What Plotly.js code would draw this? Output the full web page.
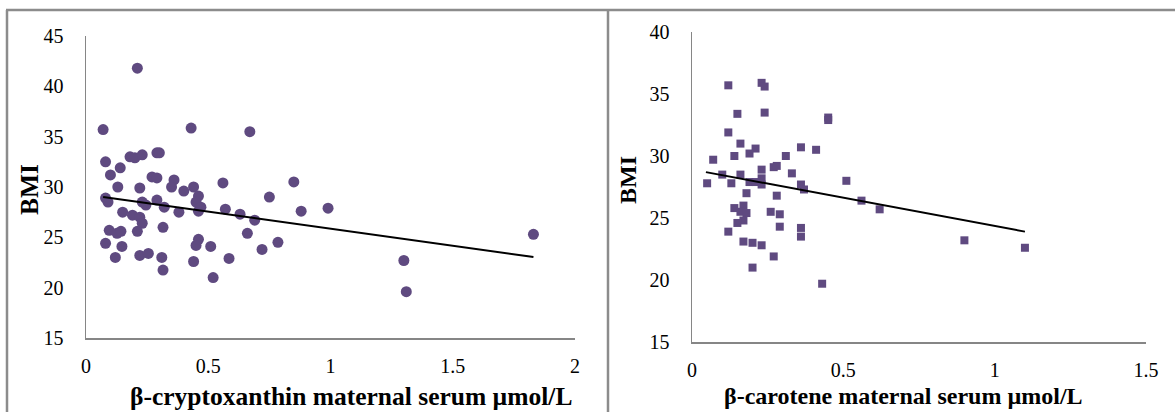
<!DOCTYPE html>
<html>
<head>
<meta charset="utf-8">
<script src="https://cdn.plot.ly/plotly-3.0.1.min.js"></script>
<style>html,body{margin:0;padding:0;background:#fff;}#chart{width:1175px;height:412px;}</style>
</head>
<body>
<div id="chart"></div>
<script>
// Left panel: beta-cryptoxanthin vs BMI
const cryptoX = [0.07,0.21,0.43,0.67,0.08,0.10,0.14,0.13,0.18,0.20,0.23,0.29,0.30,0.27,0.29,0.22,0.36,0.35,0.40,0.44,0.46,0.45,0.08,0.09,0.23,0.245,0.29,0.15,0.32,0.19,0.22,0.23,0.21,0.315,0.095,0.127,0.143,0.08,0.147,0.12,0.22,0.255,0.31,0.315,0.38,0.47,0.46,0.45,0.46,0.51,0.44,0.52,0.56,0.57,0.63,0.69,0.66,0.72,0.785,0.585,0.75,0.85,0.88,0.99,1.83,1.30,1.31];
const cryptoBMI = [35.7,41.8,35.85,35.5,32.5,31.2,31.9,30.0,33.0,32.9,33.2,33.4,33.4,31.0,30.9,29.9,30.7,30.0,29.6,30.0,29.1,28.5,28.9,28.5,28.5,28.2,28.7,27.5,28.0,27.2,27.0,26.4,25.6,26.0,25.7,25.4,25.6,24.4,24.1,23.0,23.2,23.4,23.0,21.75,27.5,28.0,27.6,24.2,24.8,24.1,22.6,21.0,30.4,27.8,27.3,26.7,25.4,23.8,24.5,22.9,29.0,30.5,27.6,27.9,25.3,22.7,19.6];
const cryptoTrendX = [0.07, 1.83];
const cryptoTrendY = [29.0, 23.05];

// Right panel: beta-carotene vs BMI
const caroteneX = [0.12,0.23,0.24,0.15,0.24,0.45,0.45,0.12,0.16,0.21,0.19,0.14,0.07,0.36,0.41,0.31,0.27,0.28,0.23,0.10,0.16,0.33,0.23,0.19,0.21,0.05,0.13,0.23,0.36,0.37,0.51,0.18,0.28,0.56,0.62,0.14,0.17,0.16,0.18,0.17,0.15,0.12,0.26,0.29,0.29,0.36,0.36,0.17,0.20,0.23,0.27,0.20,0.43,0.90,1.10];
const caroteneBMI = [35.7,35.9,35.6,33.4,33.5,33.1,32.9,31.9,31.0,30.6,30.2,30.0,29.7,30.7,30.5,30.0,29.1,29.2,28.9,28.5,28.5,28.6,28.2,27.9,27.9,27.8,27.8,27.7,27.7,27.3,28.0,27.0,26.8,26.4,25.7,25.8,26.0,25.5,25.4,24.8,24.6,23.9,25.5,25.3,24.3,24.2,23.5,23.1,23.0,22.8,21.9,21.0,19.7,23.2,22.6];
const caroteneTrendX = [0.046, 1.10];
const caroteneTrendY = [28.7, 23.9];

const leftTicks = [0, 0.5, 1, 1.5, 2];
const leftTickText = ["0", "0.5", "1", "1.5", "2"];
const rightTicks = [0, 0.5, 1, 1.5];
const rightTickText = ["0", "0.5", "1", "1.5"];
const leftYTicks = [15, 20, 25, 30, 35, 40, 45];
const rightYTicks = [15, 20, 25, 30, 35, 40];

const W = 1175, H = 412;
const px = x => x / W;
const py = y => 1 - y / H;
const purple = '#5f4a80';
const serif = '"Liberation Serif", "DejaVu Serif", serif';
const tickFont = {family: serif, size: 20, color: '#000'};
const titleFont = {family: serif, size: 25.5, color: '#000', weight: 'bold'};
const titleFontR = {family: serif, size: 24, color: '#000', weight: 'bold'};

const traces = [
  {x: cryptoX, y: cryptoBMI, type: 'scatter', mode: 'markers', xaxis: 'x', yaxis: 'y',
   marker: {symbol: 'circle', size: 11, color: purple}, hoverinfo: 'x+y'},
  {x: cryptoTrendX, y: cryptoTrendY, type: 'scatter', mode: 'lines', xaxis: 'x', yaxis: 'y',
   line: {color: '#000', width: 2}},
  {x: caroteneX, y: caroteneBMI, type: 'scatter', mode: 'markers', xaxis: 'x2', yaxis: 'y2',
   marker: {symbol: 'square', size: 8, color: purple}, hoverinfo: 'x+y'},
  {x: caroteneTrendX, y: caroteneTrendY, type: 'scatter', mode: 'lines', xaxis: 'x2', yaxis: 'y2',
   line: {color: '#000', width: 2}}
];

const axisCommon = {showgrid: false, zeroline: false, showline: true, linecolor: '#868686', linewidth: 1.5,
  ticks: '', tickfont: tickFont, tickmode: 'array', fixedrange: true};

const layout = {
  width: W, height: H,
  margin: {l: 0, r: 0, t: 0, b: 0},
  paper_bgcolor: '#fff', plot_bgcolor: 'rgba(0,0,0,0)',
  showlegend: false,
  font: {family: serif},
  xaxis: Object.assign({}, axisCommon, {domain: [px(86), px(575)], range: [0, 2], tickvals: leftTicks, ticktext: leftTickText, anchor: 'y', ticklabelstandoff: 9}),
  yaxis: Object.assign({}, axisCommon, {domain: [py(338), py(36)], range: [15, 45], tickvals: leftYTicks, ticktext: leftYTicks.map(String), anchor: 'x', ticklabelstandoff: 17}),
  xaxis2: Object.assign({}, axisCommon, {domain: [px(692), px(1146)], range: [0, 1.5], tickvals: rightTicks, ticktext: rightTickText, anchor: 'y2', ticklabelstandoff: 9}),
  yaxis2: Object.assign({}, axisCommon, {domain: [py(342), py(32)], range: [15, 40], tickvals: rightYTicks, ticktext: rightYTicks.map(String), anchor: 'x2', ticklabelstandoff: 17}),
  shapes: [
    {type: 'line', xref: 'paper', yref: 'paper', x0: px(6), x1: 1, y0: py(10), y1: py(10), line: {color: '#8c8c8c', width: 2.5}},
    {type: 'line', xref: 'paper', yref: 'paper', x0: px(7), x1: px(7), y0: py(10), y1: 0, line: {color: '#8c8c8c', width: 2.5}},
    {type: 'line', xref: 'paper', yref: 'paper', x0: px(608), x1: px(608), y0: py(10), y1: 0, line: {color: '#8c8c8c', width: 2.5}}
  ],
  annotations: [
    {text: 'β-cryptoxanthin maternal serum µmol/L', xref: 'paper', yref: 'paper', x: px(351), y: py(396), xanchor: 'center', yanchor: 'middle', showarrow: false, font: titleFont},
    {text: 'β-carotene maternal serum µmol/L', xref: 'paper', yref: 'paper', x: px(903), y: py(396), xanchor: 'center', yanchor: 'middle', showarrow: false, font: titleFontR},
    {text: 'BMI', xref: 'paper', yref: 'paper', x: px(29), y: py(190), xanchor: 'center', yanchor: 'middle', showarrow: false, textangle: -90, font: titleFont},
    {text: 'BMI', xref: 'paper', yref: 'paper', x: px(628), y: py(180), xanchor: 'center', yanchor: 'middle', showarrow: false, textangle: -90, font: titleFontR}
  ]
};

Plotly.newPlot('chart', traces, layout, {displayModeBar: false, staticPlot: true});
</script>
</body>
</html>
